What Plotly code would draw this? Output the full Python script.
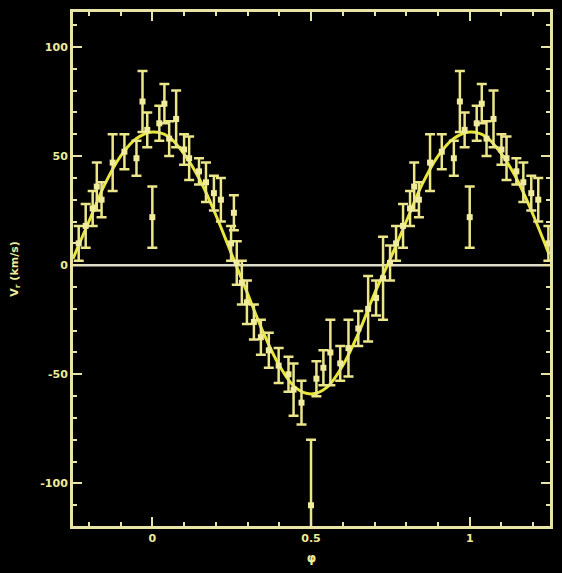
import plotly.graph_objects as go

# Radial-velocity measurements over one orbital cycle
phase = [0.000, 0.022, 0.038, 0.053, 0.075, 0.100, 0.116, 0.147, 0.169, 0.194,
         0.216, 0.248, 0.257, 0.266, 0.282, 0.298, 0.320, 0.342, 0.367, 0.398,
         0.429, 0.445, 0.470, 0.500, 0.517, 0.539, 0.561, 0.592, 0.618, 0.649,
         0.680, 0.705, 0.727, 0.749, 0.768, 0.790, 0.812, 0.825, 0.840, 0.875,
         0.912, 0.950, 0.969, 0.984]
velocity = [22, 65, 74, 58, 67, 53, 49, 43, 38, 33,
            30, 10, 24, 1, -8, -17, -26, -33, -39, -46,
            -50, -57, -63, -110, -52, -47, -40, -45, -38, -29,
            -20, -15, -6, 1, 10, 18, 26, 36, 30, 47,
            52, 49, 75, 62]
error = [14, 8, 9, 8, 13, 7, 10, 6, 9, 8,
         10, 8, 8, 10, 10, 10, 8, 8, 8, 8,
         8, 12, 10, 30, 8, 8, 15, 8, 13, 8,
         15, 8, 19, 8, 8, 10, 8, 11, 8, 13,
         8, 8, 14, 8]

# Orbital fit sampled along phase
fit_phase = [-0.25, -0.20, -0.15, -0.10, -0.05, 0.00, 0.05, 0.10, 0.15, 0.20,
             0.25, 0.30, 0.35, 0.40, 0.45, 0.50, 0.55, 0.60, 0.65, 0.70,
             0.75, 0.80, 0.85, 0.90, 0.95, 1.00, 1.05, 1.10, 1.15, 1.20, 1.25]
fit_velocity = [3, 20, 37, 50, 58, 61, 59, 51, 39, 23,
                5, -13, -31, -46, -56, -59, -56, -46, -31, -13,
                3, 20, 37, 50, 58, 61, 59, 51, 39, 23, 5]

x_ticks = [0, 0.5, 1]
x_labels = ["0", "0.5", "1"]
y_ticks = [100, 50, 0, -50, -100]
y_labels = ["100", "50", "0", "-50", "-100"]

# repeat the ends of the cycle so the plot spans phase -0.25 .. 1.25
px, pv, pe = [], [], []
for p, v, e in zip(phase, velocity, error):
    px.append(p); pv.append(v); pe.append(e)
    if p <= 0.25:
        px.append(p + 1); pv.append(v); pe.append(e)
    if p >= 0.75:
        px.append(p - 1); pv.append(v); pe.append(e)

YELLOW = "#e8e63a"
FRAME = "#e8e4a8"
TEXT = "#eeec98"

fig = go.Figure()

fig.add_trace(go.Scatter(
    x=fit_phase, y=fit_velocity, mode="lines",
    line=dict(color=YELLOW, width=3, shape="spline", smoothing=1.0),
    hoverinfo="skip", showlegend=False))

fig.add_trace(go.Scatter(
    x=px, y=pv, mode="markers",
    marker=dict(symbol="square", size=6, color="#f0ec9c"),
    error_y=dict(type="data", array=pe, visible=True,
                 color="#ebe68a", thickness=2.5, width=5),
    showlegend=False))

# zero-velocity reference line
fig.add_shape(type="line", xref="paper", x0=0, x1=1, y0=0, y1=0,
              line=dict(color="#deddcc", width=2.5), layer="below")

axis_common = dict(
    showgrid=False, zeroline=False, showline=True, linecolor=FRAME,
    linewidth=3, mirror="allticks", ticks="inside", tickcolor=FRAME,
    tickwidth=2, ticklen=9,
    tickfont=dict(family="DejaVu Sans", size=11, color=TEXT, weight="bold"),
)

fig.update_xaxes(
    range=[-0.25, 1.253], tickvals=x_ticks, ticktext=x_labels,
    minor=dict(dtick=0.1, tick0=0, ticks="inside", ticklen=4,
               tickcolor=FRAME, tickwidth=2),
    title=dict(text="φ",
               font=dict(family="DejaVu Sans", size=12, color=TEXT, weight="bold"),
               standoff=10),
    **axis_common)

fig.update_yaxes(
    range=[-119.5, 116], tickvals=y_ticks, ticktext=y_labels,
    minor=dict(dtick=10, tick0=0, ticks="inside", ticklen=4,
               tickcolor=FRAME, tickwidth=2),
    title=dict(text="V<sub>r</sub> (km/s)",
               font=dict(family="DejaVu Sans", size=11, color=TEXT, weight="bold"),
               standoff=20),
    **axis_common)

fig.update_layout(
    width=562, height=573,
    paper_bgcolor="black", plot_bgcolor="black",
    margin=dict(l=73, r=9, t=12, b=43),
)

fig.write_html("out.html")
